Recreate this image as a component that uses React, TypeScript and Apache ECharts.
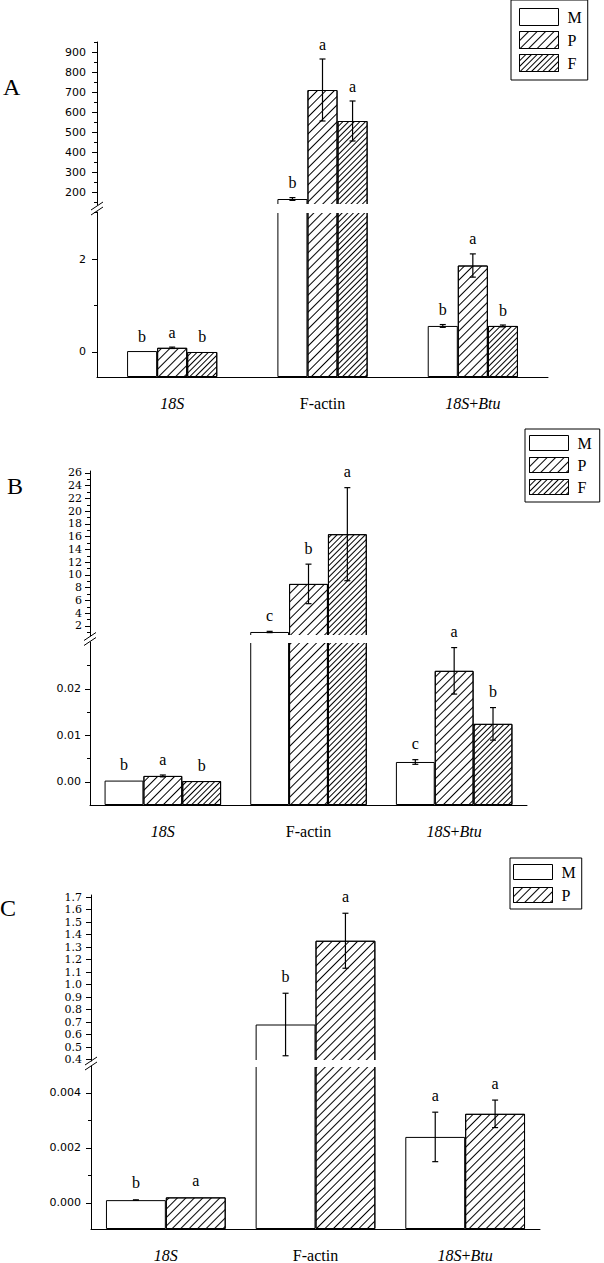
import React, { useEffect, useRef } from 'react';
import * as echarts from 'echarts';

const categories = ['18S', 'F-actin', '18S+Btu'];
const seriesNames = ['M', 'P', 'F'];

// ---- Panel A ----
const aM = [0.02, 165, 0.56];
const aMErr = [0, 7, 0.03];
const aP = [0.09, 710, 1.86];
const aPErr = [0.015, 155, 0.25];
const aF = [0.0, 555, 0.56];
const aFErr = [0, 100, 0.02];
const aMLetters = ['b', 'b', 'b'];
const aPLetters = ['a', 'a', 'a'];
const aFLetters = ['b', 'a', 'b'];
const aUpperTicks = [200, 300, 400, 500, 600, 700, 800, 900];
const aUpperMinor = [150, 250, 350, 450, 550, 650, 750, 850, 950];
const aLowerTicks = [0, 2];
const aLowerMinor = [1, 3];

// ---- Panel B ----
const bM = [0.0003, 1.06, 0.0043];
const bMErr = [0, 0.1, 0.0005];
const bP = [0.0013, 8.6, 0.0239];
const bPErr = [0.0002, 3.1, 0.005];
const bF = [0.0002, 16.4, 0.0125];
const bFErr = [0, 7.3, 0.0035];
const bMLetters = ['b', 'c', 'c'];
const bPLetters = ['a', 'b', 'a'];
const bFLetters = ['b', 'a', 'b'];
const bUpperTicks = [2, 4, 6, 8, 10, 12, 14, 16, 18, 20, 22, 24, 26];
const bUpperMinor = [1, 3, 5, 7, 9, 11, 13, 15, 17, 19, 21, 23, 25];
const bLowerTicks = [0, 0.01, 0.02];
const bLowerMinor = [0.005, 0.015, 0.025];

// ---- Panel C ----
const cM = [0.0001, 0.68, 0.0024];
const cMErr = [0.00001, 0.25, 0.0009];
const cP = [0.0002, 1.35, 0.00324];
const cPErr = [0, 0.22, 0.0005];
const cMLetters = ['b', 'b', 'a'];
const cPLetters = ['a', 'a', 'a'];
const cUpperTicks = [0.4, 0.5, 0.6, 0.7, 0.8, 0.9, 1.0, 1.1, 1.2, 1.3, 1.4, 1.5, 1.6, 1.7];
const cUpperMinor: number[] = [];
const cLowerTicks = [0, 0.002, 0.004];
const cLowerMinor = [0.001, 0.003];

const BLACK = '#000';
const SERIF = '"Liberation Serif", "Times New Roman", serif';
const SANS = '"DejaVu Sans", sans-serif';

const decalP = { symbol: 'rect', symbolSize: 1, color: BLACK, dashArrayX: [1, 0], dashArrayY: [1, 5], rotation: -Math.PI / 4 };
const decalF = { symbol: 'rect', symbolSize: 1, color: BLACK, dashArrayX: [1, 0], dashArrayY: [1, 2.2], rotation: -Math.PI / 4 };
const itemStyles = [
  { color: '#fff', borderColor: BLACK, borderWidth: 1 },
  { color: '#fff', borderColor: BLACK, borderWidth: 1, decal: decalP },
  { color: '#fff', borderColor: BLACK, borderWidth: 1, decal: decalF },
];

const panels = [
  {
    key: 'A',
    values: [aM, aP, aF], errs: [aMErr, aPErr, aFErr], letters: [aMLetters, aPLetters, aFLetters],
    upper: { min: 135, max: 950, ticks: aUpperTicks, minor: aUpperMinor, fmt: (v: number) => String(v), font: SANS, size: 11, margin: 11 },
    lower: { min: -0.538, max: 3.011, ticks: aLowerTicks, minor: aLowerMinor, fmt: (v: number) => String(v), font: SANS, size: 11, margin: 11 },
    layout: { left: 97, width: 451, upperTop: 42, upperBottom: 205, lowerTop: 212, lowerBottom: 377, gap: 0.4, letterOffset: 15 },
    legend: { left: 511, top: 0, itemHeight: 17, itemGap: 5, padding: [8, 6, 8, 8] },
    label: { x: 3, y: 87 },
  },
  {
    key: 'B',
    values: [bM, bP, bF], errs: [bMErr, bPErr, bFErr], letters: [bMLetters, bPLetters, bFLetters],
    upper: { min: 0.43, max: 26.31, ticks: bUpperTicks, minor: bUpperMinor, fmt: (v: number) => String(v), font: '"DejaVu Serif", serif', size: 11, margin: 8 },
    lower: { min: -0.00495, max: 0.0301, ticks: bLowerTicks, minor: bLowerMinor, fmt: (v: number) => v.toFixed(2), font: SANS, size: 11, margin: 9 },
    layout: { left: 90, width: 437, upperTop: 471, upperBottom: 636, lowerTop: 642, lowerBottom: 805, gap: 0.2, letterOffset: 16 },
    legend: { left: 525, top: 429, itemHeight: 15, itemGap: 6, padding: [6, 8, 7, 4] },
    label: { x: 7, y: 486 },
  },
  {
    key: 'C',
    values: [cM, cP], errs: [cMErr, cPErr], letters: [cMLetters, cPLetters],
    upper: { min: 0.388, max: 1.716, ticks: cUpperTicks, minor: cUpperMinor, fmt: (v: number) => v.toFixed(1), font: '"DejaVu Serif", serif', size: 11, margin: 9 },
    lower: { min: -0.00095, max: 0.00498, ticks: cLowerTicks, minor: cLowerMinor, fmt: (v: number) => v.toFixed(3), font: SANS, size: 11, margin: 10 },
    layout: { left: 91, width: 449, upperTop: 895, upperBottom: 1061, lowerTop: 1066, lowerBottom: 1229, gap: 0.2, letterOffset: 17 },
    legend: { left: 510, top: 858, itemHeight: 15, itemGap: 7, padding: [6, 6, 6, 3] },
    label: { x: 0, y: 908 },
  },
];

function xLabel(v: string) {
  if (v === '18S') return '{i|18S}';
  if (v === '18S+Btu') return '{i|18S}{n|+}{i|Btu}';
  return '{n|' + v + '}';
}

function buildOption() {
  const grid: any[] = [];
  const xAxis: any[] = [];
  const yAxis: any[] = [];
  const series: any[] = [];
  const graphic: any[] = [];
  const legend: any[] = [];

  panels.forEach((p) => {
    const L = p.layout;
    const n = p.values.length;
    const gi = grid.length;
    grid.push({ left: L.left, top: L.upperTop, width: L.width, height: L.upperBottom - L.upperTop });
    grid.push({ left: L.left, top: L.lowerTop, width: L.width, height: L.lowerBottom - L.lowerTop });

    const xi = xAxis.length;
    xAxis.push({ type: 'category', gridIndex: gi, data: categories, show: false });
    xAxis.push({
      type: 'category', gridIndex: gi + 1, data: categories, position: 'bottom',
      axisLine: { onZero: false, lineStyle: { color: BLACK, width: 1 } },
      axisTick: { alignWithLabel: true, length: 5, lineStyle: { color: BLACK } },
      axisLabel: {
        margin: 18, formatter: xLabel,
        rich: {
          i: { fontStyle: 'italic', fontFamily: SERIF, fontSize: 16, color: BLACK },
          n: { fontFamily: SERIF, fontSize: 16, color: BLACK },
        },
      },
    });
    xAxis.push({
      type: 'category', gridIndex: gi + 1, data: categories, position: 'bottom',
      axisLine: { show: false, onZero: false },
      axisTick: { length: 4, lineStyle: { color: BLACK } },
      axisLabel: { show: false },
    });

    const yi = yAxis.length;
    [p.upper, p.lower].forEach((seg, k) => {
      yAxis.push({
        type: 'value', gridIndex: gi + k, position: 'left', min: seg.min, max: seg.max,
        startValue: k === 1 ? seg.min : undefined,
        axisLine: { show: true, onZero: false, lineStyle: { color: BLACK, width: 1 } },
        axisTick: { show: true, length: 5, customValues: seg.ticks, lineStyle: { color: BLACK } },
        axisLabel: { show: true, customValues: seg.ticks, formatter: seg.fmt, margin: seg.margin, color: BLACK, fontFamily: seg.font, fontSize: seg.size },
        splitLine: { show: false },
      });
      yAxis.push({
        type: 'value', gridIndex: gi + k, position: 'left', min: seg.min, max: seg.max,
        axisLine: { show: false, onZero: false },
        axisTick: { show: seg.minor.length > 0, length: 3, customValues: seg.minor, lineStyle: { color: BLACK } },
        axisLabel: { show: false },
        splitLine: { show: false },
      });
    });
    const yUpper = yi;
    const yLower = yi + 2;
    const lowerMax = p.lower.max;

    p.values.forEach((vals, s) => {
      const common = {
        type: 'bar', name: seriesNames[s], barGap: '0%', barCategoryGap: Math.round(L.gap * 100) + '%',
        itemStyle: itemStyles[s], clip: true, z: 2, emphasis: { disabled: true },
      };
      series.push({ ...common, xAxisIndex: xi, yAxisIndex: yUpper, data: vals.map((v) => (v > lowerMax ? v : '-')) });
      series.push({ ...common, xAxisIndex: xi + 1, yAxisIndex: yLower, data: vals });
    });

    const upperErr: number[][] = [];
    const lowerErr: number[][] = [];
    p.values.forEach((vals, s) => {
      vals.forEach((v, c) => {
        const item = [c, s, v, p.errs[s][c]];
        if (v > lowerMax) upperErr.push(item); else lowerErr.push(item);
      });
    });

    const renderErr = (params: any, api: any) => {
      const c = api.value(0);
      const s = api.value(1);
      const v = api.value(2);
      const e = api.value(3);
      const band = api.size([1, 0])[0];
      const barW = (band * (1 - L.gap)) / n;
      const pt = api.coord([c, v]);
      const x = pt[0] + (s - (n - 1) / 2) * barW;
      const yTop = api.coord([c, v + e])[1];
      const yBot = api.coord([c, v - e])[1];
      const children: any[] = [];
      const ls = { stroke: BLACK, lineWidth: 1.2 };
      if (e > 0) {
        children.push({ type: 'line', shape: { x1: x, y1: yTop, x2: x, y2: yBot }, style: ls });
        children.push({ type: 'line', shape: { x1: x - 3, y1: yTop, x2: x + 3, y2: yTop }, style: ls });
        children.push({ type: 'line', shape: { x1: x - 3, y1: yBot, x2: x + 3, y2: yBot }, style: ls });
      }
      children.push({
        type: 'text',
        style: {
          text: p.letters[s][c], x, y: Math.min(yTop, pt[1]) - L.letterOffset,
          align: 'center', verticalAlign: 'middle', font: '16px ' + SERIF, fill: BLACK,
        },
      });
      return { type: 'group', children };
    };

    series.push({
      type: 'custom', name: 'err-' + p.key + '-u', xAxisIndex: xi, yAxisIndex: yUpper,
      data: upperErr, encode: { x: 0, y: 2 }, renderItem: renderErr, z: 60, clip: false,
    });
    series.push({
      type: 'custom', name: 'err-' + p.key + '-l', xAxisIndex: xi + 1, yAxisIndex: yLower,
      data: lowerErr, encode: { x: 0, y: 2 }, renderItem: renderErr, z: 60, clip: false,
    });

    // white gap across the broken bars
    graphic.push({
      type: 'rect', z: 50,
      shape: { x: L.left + 1, y: L.upperBottom - 1, width: L.width + 2, height: L.lowerTop - L.upperBottom + 2 },
      style: { fill: '#fff' },
    });
    const mid = (L.upperBottom + L.lowerTop) / 2;
    [-2.5, 2.5].forEach((d) => {
      graphic.push({
        type: 'line', z: 51,
        shape: { x1: L.left - 6, y1: mid + 4 + d, x2: L.left + 6, y2: mid - 4 + d },
        style: { stroke: BLACK, lineWidth: 1 },
      });
    });
    graphic.push({
      type: 'text', z: 51,
      style: { text: p.key, x: p.label.x, y: p.label.y, font: '24px ' + SERIF, fill: BLACK, verticalAlign: 'middle', textVerticalAlign: 'middle' },
    });

    legend.push({
      data: seriesNames.slice(0, n), orient: 'vertical', left: p.legend.left, top: p.legend.top,
      itemWidth: 39, itemHeight: p.legend.itemHeight, itemGap: p.legend.itemGap, padding: p.legend.padding,
      icon: 'rect', selectedMode: false, borderColor: BLACK, borderWidth: 1, backgroundColor: '#fff',
      itemStyle: { borderColor: BLACK, borderWidth: 1 },
      textStyle: { fontFamily: SERIF, fontSize: 16, color: BLACK, padding: [0, 0, 0, 4] },
    });
  });

  return {
    animation: false,
    backgroundColor: '#fff',
    grid, xAxis, yAxis, series, graphic, legend,
  };
}

export default function App() {
  const ref = useRef<HTMLDivElement>(null);
  useEffect(() => {
    if (!ref.current) return;
    const chart = echarts.init(ref.current, undefined, { renderer: 'svg' });
    chart.setOption(buildOption() as any);
    return () => chart.dispose();
  }, []);
  return <div ref={ref} style={{ position: 'absolute', left: 0, top: 0, width: 604, height: 1263 }} />;
}
